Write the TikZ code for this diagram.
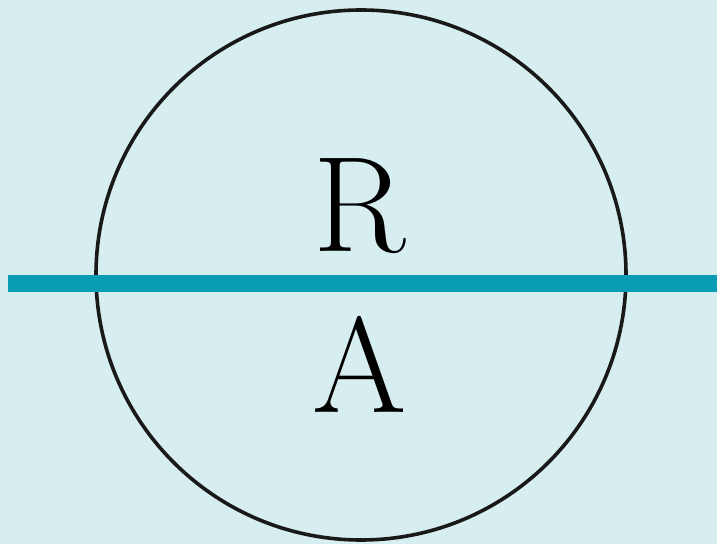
\documentclass[tikz,border=0pt]{standalone}
\definecolor{bgblue}{RGB}{215,238,241}
\definecolor{teal2}{RGB}{8,157,181}
\begin{document}
\begin{tikzpicture}[x=1pt,y=1pt,
  ring/.style={draw=black!90,line width=3.6pt},
  bar/.style={draw=teal2,line width=17pt},
  letter/.style={font=\fontsize{136}{136}\selectfont,inner sep=0pt,anchor=base}]
\fill[bgblue] (0,0) rectangle (717,544);
\useasboundingbox (0,0) rectangle (717,544);
\node[ring,circle,minimum size=530pt,inner sep=0pt] (c) at (361,269) {};
\coordinate (l) at (8,260);
\coordinate (r) at (717,260);
\draw[bar] (l) -- (r);
\node[letter] (R) at (360,292) {R};
\node[letter] (A) at (360,132) {A};
\end{tikzpicture}
\end{document}
